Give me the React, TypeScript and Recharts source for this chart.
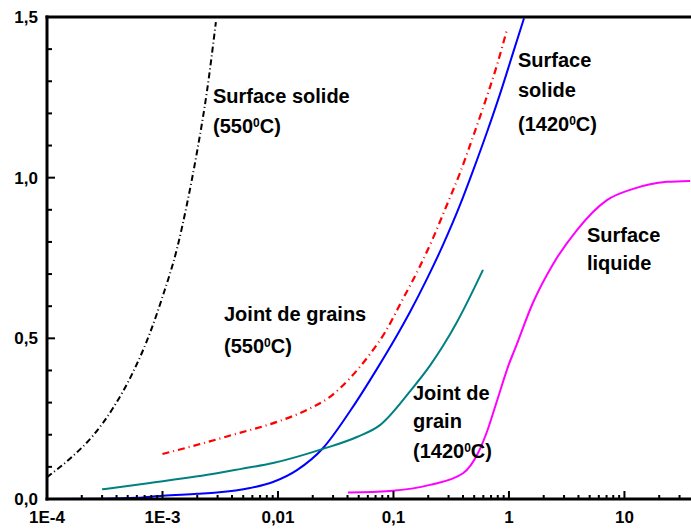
import { LineChart, Line, XAxis, YAxis } from "recharts";

// Surface solide (550°C)
const solid550 = [
  { x: 1e-4, y: 0.068 },
  { x: 1.68e-4, y: 0.134 },
  { x: 2.5e-4, y: 0.197 },
  { x: 3.73e-4, y: 0.283 },
  { x: 5.56e-4, y: 0.395 },
  { x: 7.8e-4, y: 0.517 },
  { x: 1e-3, y: 0.629 },
  { x: 1.34e-3, y: 0.781 },
  { x: 1.63e-3, y: 0.918 },
  { x: 1.99e-3, y: 1.08 },
  { x: 2.43e-3, y: 1.27 },
  { x: 2.9e-3, y: 1.484 },
];

// Joint de grains (550°C)
const grain550 = [
  { x: 1e-3, y: 0.14 },
  { x: 1.84e-3, y: 0.165 },
  { x: 4.07e-3, y: 0.2 },
  { x: 9.8e-3, y: 0.24 },
  { x: 0.0178, y: 0.277 },
  { x: 0.0282, y: 0.318 },
  { x: 0.042, y: 0.376 },
  { x: 0.0626, y: 0.451 },
  { x: 0.085, y: 0.52 },
  { x: 0.118, y: 0.616 },
  { x: 0.17, y: 0.725 },
  { x: 0.22, y: 0.812 },
  { x: 0.29, y: 0.915 },
  { x: 0.377, y: 1.015 },
  { x: 0.488, y: 1.127 },
  { x: 0.62, y: 1.235 },
  { x: 0.787, y: 1.35 },
  { x: 0.96, y: 1.46 },
];

// Surface solide (1420°C)
const solid1420 = [
  { x: 1e-4, y: 0.0 },
  { x: 3e-4, y: 0.001 },
  { x: 6e-4, y: 0.004 },
  { x: 1e-3, y: 0.01 },
  { x: 2e-3, y: 0.016 },
  { x: 2.96e-3, y: 0.02 },
  { x: 5.73e-3, y: 0.034 },
  { x: 9.06e-3, y: 0.053 },
  { x: 0.0146, y: 0.09 },
  { x: 0.0245, y: 0.158 },
  { x: 0.042, y: 0.273 },
  { x: 0.072, y: 0.405 },
  { x: 0.114, y: 0.526 },
  { x: 0.139, y: 0.582 },
  { x: 0.195, y: 0.685 },
  { x: 0.268, y: 0.79 },
  { x: 0.377, y: 0.915 },
  { x: 0.488, y: 1.021 },
  { x: 0.646, y: 1.142 },
  { x: 0.836, y: 1.26 },
  { x: 1.08, y: 1.386 },
  { x: 1.35, y: 1.496 },
];

// Joint de grain (1420°C)
const grain1420 = [
  { x: 3e-4, y: 0.03 },
  { x: 7.8e-4, y: 0.05 },
  { x: 2.96e-3, y: 0.08 },
  { x: 4.7e-3, y: 0.093 },
  { x: 9.06e-3, y: 0.112 },
  { x: 0.0245, y: 0.156 },
  { x: 0.0483, y: 0.193 },
  { x: 0.0764, y: 0.23 },
  { x: 0.139, y: 0.335 },
  { x: 0.207, y: 0.415 },
  { x: 0.268, y: 0.476 },
  { x: 0.355, y: 0.551 },
  { x: 0.596, y: 0.713 },
];

// Surface liquide
const liquid = [
  { x: 0.0404, y: 0.02 },
  { x: 0.093, y: 0.025 },
  { x: 0.207, y: 0.044 },
  { x: 0.4, y: 0.08 },
  { x: 0.54, y: 0.143 },
  { x: 0.646, y: 0.21 },
  { x: 0.787, y: 0.305 },
  { x: 1.0, y: 0.42 },
  { x: 1.13, y: 0.468 },
  { x: 1.61, y: 0.61 },
  { x: 2.4, y: 0.73 },
  { x: 3.88, y: 0.837 },
  { x: 7.05, y: 0.93 },
  { x: 11.9, y: 0.965 },
  { x: 23.3, y: 0.987 },
  { x: 37, y: 0.99 },
];

const xMajor = [1e-4, 1e-3, 0.01, 0.1, 1, 10];
const xMajorLabels = ["1E-4", "1E-3", "0,01", "0,1", "1", "10"];
const xMinor = [
  2e-4, 3e-4, 4e-4, 5e-4, 6e-4, 7e-4, 8e-4, 9e-4,
  2e-3, 3e-3, 4e-3, 5e-3, 6e-3, 7e-3, 8e-3, 9e-3,
  0.02, 0.03, 0.04, 0.05, 0.06, 0.07, 0.08, 0.09,
  0.2, 0.3, 0.4, 0.5, 0.6, 0.7, 0.8, 0.9,
  2, 3, 4, 5, 6, 7, 8, 9,
  20, 30,
];
const yMajor = [0, 0.5, 1, 1.5];
const yMajorLabels = ["0,0", "0,5", "1,0", "1,5"];
const yMinor = [0.1, 0.2, 0.3, 0.4, 0.6, 0.7, 0.8, 0.9, 1.1, 1.2, 1.3, 1.4];

const xTicks = [...xMajor, ...xMinor].sort((a, b) => a - b);
const yTicks = [...yMajor, ...yMinor].sort((a, b) => a - b);

const W = 691;
const H = 530;
const TOP = 17;
const LEFT = 47;
const BOTTOM_H = 31;

const font = "'Liberation Sans', Arial, sans-serif";

// inward tick marks (major longer than minor) plus the labels
const BottomTick = (props: any) => {
  const x = Number(props.x);
  const y = Number(props.y);
  const i = xMajor.indexOf(props.payload.value);
  const len = i >= 0 ? 8 : 4;
  return (
    <g>
      <rect x={x - 1} y={y - len} width={2} height={len} fill="#000" />
      {i >= 0 && (
        <text x={x} y={y + 24} textAnchor="middle" fontFamily={font} fontWeight="bold" fontSize={17} fill="#000">
          {xMajorLabels[i]}
        </text>
      )}
    </g>
  );
};

const TopTick = (props: any) => {
  const x = Number(props.x);
  const y = Number(props.y);
  const major = xMajor.indexOf(props.payload.value) >= 0;
  return major ? (
    <rect x={x - 1} y={y} width={2} height={8} fill="#000" />
  ) : (
    <rect x={x - 0.5} y={y} width={1} height={3} fill="#aaa" />
  );
};

const LeftTick = (props: any) => {
  const x = Number(props.x);
  const y = Number(props.y);
  const i = yMajor.indexOf(props.payload.value);
  const len = i >= 0 ? 8 : 5;
  return (
    <g>
      <rect x={x} y={y - 1} width={len} height={2} fill="#000" />
      {i >= 0 && (
        <text x={x - 9} y={y + 6} textAnchor="end" fontFamily={font} fontWeight="bold" fontSize={17} fill="#000">
          {yMajorLabels[i]}
        </text>
      )}
    </g>
  );
};

type NoteLine = { t: string; y: number; deg?: boolean };

const Note = ({ x, lines }: { x: number; lines: NoteLine[] }) => (
  <g>
    {lines.map((l, k) => (
      <text key={k} x={x} y={l.y} fontFamily={font} fontWeight="bold" fontSize={20} fill="#000">
        {l.deg ? (
          <>
            {l.t}
            <tspan dy={-6} fontSize={12}>0</tspan>
            <tspan dy={6}>C)</tspan>
          </>
        ) : (
          l.t
        )}
      </text>
    ))}
  </g>
);

export default function App() {
  const bottom = H - BOTTOM_H;
  return (
    <div style={{ position: "absolute", left: 0, top: 0, width: W, height: H, background: "#fff" }}>
      <LineChart width={W} height={H} margin={{ top: TOP - 1, right: 0, bottom: 0, left: 0 }}>
        <XAxis
          dataKey="x"
          type="number"
          scale="log"
          domain={[1e-4, 37.7]}
          ticks={xTicks}
          interval={0}
          tickSize={0}
          tickMargin={0}
          height={BOTTOM_H}
          tick={<BottomTick />}
          tickLine={false}
          axisLine={false}
        />
        <XAxis
          xAxisId="t"
          orientation="top"
          dataKey="x"
          type="number"
          scale="log"
          domain={[1e-4, 37.7]}
          ticks={xTicks}
          interval={0}
          tickSize={0}
          tickMargin={0}
          height={1}
          tick={<TopTick />}
          tickLine={false}
          axisLine={false}
        />
        <YAxis
          dataKey="y"
          type="number"
          domain={[0, 1.5]}
          ticks={yTicks}
          interval={0}
          tickSize={0}
          tickMargin={0}
          width={LEFT}
          tick={<LeftTick />}
          tickLine={false}
          axisLine={false}
        />
        <Line data={solid550} dataKey="y" type="monotone" stroke="#000" strokeWidth={2} strokeDasharray="6 3 1 3" dot={false} isAnimationActive={false} />
        <Line data={grain550} dataKey="y" type="monotone" stroke="#ff0000" strokeWidth={2.2} strokeDasharray="7 4 1 4" dot={false} isAnimationActive={false} />
        <Line data={solid1420} dataKey="y" type="monotone" stroke="#0000ff" strokeWidth={2} dot={false} isAnimationActive={false} />
        <Line data={grain1420} dataKey="y" type="monotone" stroke="#008080" strokeWidth={2} dot={false} isAnimationActive={false} />
        <Line data={liquid} dataKey="y" type="monotone" stroke="#ff00ff" strokeWidth={2} dot={false} isAnimationActive={false} />
      </LineChart>
      <svg width={W} height={H} style={{ position: "absolute", left: 0, top: 0, pointerEvents: "none" }}>
        {/* plot frame: left, bottom and top (the right side is cut off) */}
        <rect x={LEFT - 1.5} y={TOP - 1.5} width={3} height={bottom - TOP + 3} fill="#000" />
        <rect x={LEFT - 1.5} y={bottom - 1.5} width={W - LEFT + 1.5} height={3} fill="#000" />
        <rect x={LEFT - 1.5} y={TOP - 1.5} width={W - LEFT + 1.5} height={3} fill="#000" />
        <Note x={213} lines={[{ t: "Surface solide", y: 103 }, { t: "(550", y: 133, deg: true }]} />
        <Note x={518} lines={[{ t: "Surface", y: 67 }, { t: "solide", y: 97 }, { t: "(1420", y: 131, deg: true }]} />
        <Note x={224} lines={[{ t: "Joint de grains", y: 321 }, { t: "(550", y: 353, deg: true }]} />
        <Note x={587} lines={[{ t: "Surface", y: 242 }, { t: "liquide", y: 270 }]} />
        <Note x={413} lines={[{ t: "Joint de", y: 400 }, { t: "grain", y: 428 }, { t: "(1420", y: 458, deg: true }]} />
      </svg>
    </div>
  );
}
